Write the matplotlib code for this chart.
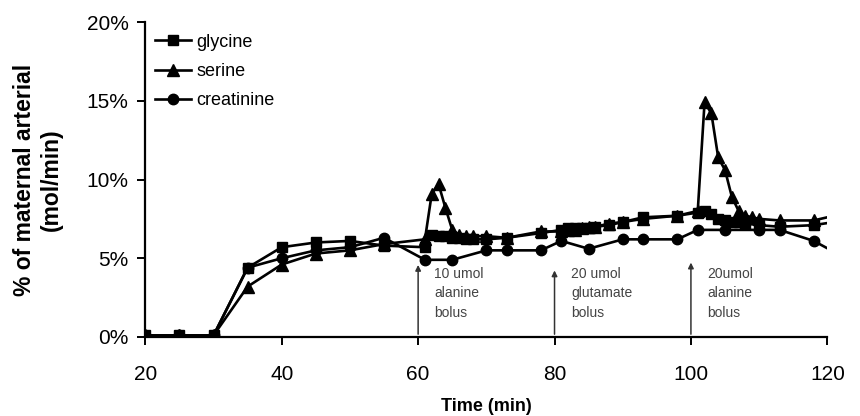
import matplotlib
matplotlib.use("Agg")
import matplotlib.pyplot as plt
from matplotlib.ticker import PercentFormatter

plt.rcParams["font.family"] = ["Liberation Sans", "DejaVu Sans"]

# Sampling times (min) and series values (% of maternal arterial)
GLY_T = [20, 25, 30, 35, 40, 45, 50, 55, 61, 62, 63, 64, 65, 66, 67, 68, 70,
         73, 78, 81, 82, 83, 84, 85, 86, 88, 90, 93, 98, 101, 102, 103, 104,
         105, 106, 107, 108, 110, 113, 118, 121]
GLY_V = [0.1, 0.1, 0.1, 4.4, 5.7, 6.0, 6.1, 5.8, 5.7, 6.5, 6.4, 6.4, 6.3, 6.3,
         6.2, 6.2, 6.2, 6.3, 6.6, 6.8, 6.9, 6.9, 6.9, 6.9, 7.0, 7.1, 7.3, 7.6,
         7.7, 7.9, 8.0, 7.8, 7.5, 7.4, 7.3, 7.3, 7.2, 7.1, 7.0, 7.1, 7.3]

SER_T = [20, 25, 30, 35, 40, 45, 50, 55, 61, 62, 63, 64, 65, 66, 67, 68, 70,
         73, 78, 81, 82, 83, 84, 85, 86, 88, 90, 93, 98, 101, 102, 103, 104,
         105, 106, 107, 108, 109, 110, 113, 118, 121]
SER_V = [0.1, 0.1, 0.1, 3.2, 4.6, 5.3, 5.5, 5.9, 6.2, 9.1, 9.7, 8.2, 6.8, 6.5,
         6.4, 6.4, 6.4, 6.3, 6.7, 6.7, 6.8, 6.8, 6.9, 7.0, 7.0, 7.2, 7.3, 7.5,
         7.7, 8.0, 14.9, 14.2, 11.4, 10.6, 8.9, 8.0, 7.7, 7.6, 7.5, 7.4, 7.4,
         7.7]

CRE_T = [20, 25, 30, 35, 40, 45, 50, 55, 61, 65, 70, 73, 78, 81, 85, 90, 93,
         98, 101, 105, 110, 113, 118, 121]
CRE_V = [0.1, 0.1, 0.1, 4.4, 5.0, 5.5, 5.7, 6.3, 4.9, 4.9, 5.5, 5.5, 5.5, 6.1,
         5.6, 6.2, 6.2, 6.2, 6.8, 6.8, 6.8, 6.8, 6.1, 5.4]

# Bolus annotations: time, arrow tip height, text
BOLUS_T = [60, 80, 100]
BOLUS_TIP = [4.75, 4.4, 4.9]
BOLUS_TXT = ["10 umol\nalanine\nbolus", "20 umol\nglutamate\nbolus",
             "20umol\nalanine\nbolus"]

fig = plt.figure(figsize=(8.6, 4.16), dpi=100)
ax = fig.add_axes([0.169, 0.19, 0.793, 0.757])

ax.plot(GLY_T, GLY_V, color="black", lw=1.9, marker="s", ms=7.5,
        label="glycine", zorder=3)
ax.plot(SER_T, SER_V, color="black", lw=1.9, marker="^", ms=8,
        label="serine", zorder=3)
ax.plot(CRE_T, CRE_V, color="black", lw=1.9, marker="o", ms=7.5,
        label="creatinine", zorder=3)

for t, tip, txt in zip(BOLUS_T, BOLUS_TIP, BOLUS_TXT):
    ax.annotate("", xy=(t, tip), xytext=(t, 0),
                arrowprops=dict(arrowstyle="-|>", color="#333333", lw=1.1,
                                mutation_scale=8))
    ax.text(t + 2.4, 4.45, txt, fontsize=10, color="#444444", va="top",
            ha="left", linespacing=1.5)

ax.set_xlim(20, 120)
ax.set_ylim(0, 20)
ax.set_xticks([20, 40, 60, 80, 100, 120])
ax.set_yticks([0, 5, 10, 15, 20])
ax.yaxis.set_major_formatter(PercentFormatter(decimals=0))
ax.tick_params(labelsize=15, length=6, width=1.4, color="black", pad=6)
ax.tick_params(axis="x", pad=14)

for side in ["top", "right"]:
    ax.spines[side].set_visible(False)
for side in ["left", "bottom"]:
    ax.spines[side].set_linewidth(1.6)

ax.set_xlabel("Time (min)", fontsize=13, fontweight="bold", labelpad=10)
ax.set_ylabel("% of maternal arterial\n(mol/min)", fontsize=16.5,
              fontweight="bold", labelpad=17)

ax.legend(loc="upper left", bbox_to_anchor=(-0.012, 1.02), frameon=False,
          fontsize=13, handlelength=2.0, handletextpad=0.3,
          labelspacing=0.68, borderaxespad=0.6)

fig.savefig("out.png", dpi=100)
